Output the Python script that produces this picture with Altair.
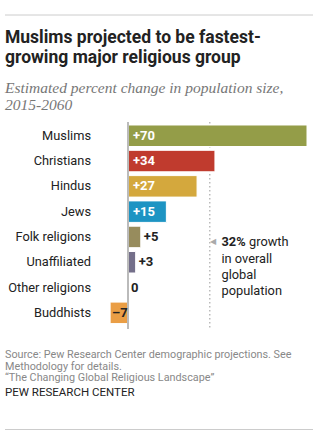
import altair as alt
import pandas as pd

groups = ["Muslims", "Christians", "Hindus", "Jews", "Folk religions",
          "Unaffiliated", "Other religions", "Buddhists"]
values = [70, 34, 27, 15, 5, 3, 0, -7]
labels = ["+70", "+34", "+27", "+15", "+5", "+3", "0", "\u20137"]
colors = ["#949D48", "#C03B2E", "#D4A83D", "#1D94C3", "#978C5D",
          "#746F8A", "#999999", "#EA9E45"]
world_growth = 32

df = pd.DataFrame({"group": groups, "value": values, "label": labels, "color": colors})

W, H = 329, 442
FONT = "Roboto"

xscale = alt.Scale(domain=[-50.06, 78.6], range=[0, W], nice=False, zero=False)
yscale = alt.Scale(domain=groups, range=[123.1, 325.5], paddingInner=0.15, paddingOuter=0.075)

base = alt.Chart(df).transform_calculate(zero="0")

bars = base.mark_bar(stroke="white", strokeWidth=1).encode(
    x=alt.X("value:Q", scale=xscale, axis=None),
    x2="zero:Q",
    y=alt.Y("group:N", scale=yscale, axis=None),
    color=alt.Color("color:N", scale=None, legend=None),
)

cats = base.mark_text(align="right", baseline="middle", font=FONT, fontSize=12.8,
                      color="#222222").encode(
    x=alt.value(91), y=alt.Y("group:N", scale=yscale, axis=None), text="group:N")

inside = base.transform_filter("datum.value >= 15").mark_text(
    align="left", baseline="middle", font=FONT, fontSize=13, fontWeight="bold",
    color="white", dx=5).encode(
    x=alt.X("zero:Q", scale=xscale, axis=None), y=alt.Y("group:N", scale=yscale, axis=None),
    text="label:N")

outside = base.transform_filter("datum.value >= 0 && datum.value < 15").mark_text(
    align="left", baseline="middle", font=FONT, fontSize=13, fontWeight="bold",
    color="#222222", dx=3).encode(
    x=alt.X("value:Q", scale=xscale, axis=None), y=alt.Y("group:N", scale=yscale, axis=None),
    text="label:N")

neg = base.transform_filter("datum.value < 0").mark_text(
    align="left", baseline="middle", font=FONT, fontSize=13, fontWeight="bold",
    color="#222222", dx=2).encode(
    x=alt.X("value:Q", scale=xscale, axis=None), y=alt.Y("group:N", scale=yscale, axis=None),
    text="label:N")

ref_df = pd.DataFrame({"v": [world_growth]})
dotted = alt.Chart(ref_df).mark_rule(color="#999999", strokeDash=[1.5, 2.5], strokeWidth=1).encode(
    x=alt.X("v:Q", scale=xscale, axis=None), y=alt.value(122), y2=alt.value(328))

zero_df = pd.DataFrame({"v": [0]})
zero = alt.Chart(zero_df).mark_rule(color="#BBBBBB", strokeWidth=2).encode(
    x=alt.X("v:Q", scale=xscale, axis=None), y=alt.value(122), y2=alt.value(329))

def txt(s, x, y, size, color="#222222", weight="normal", style="normal", font=FONT):
    return alt.Chart(pd.DataFrame({"t": [s]})).mark_text(
        align="left", baseline="middle", font=font, fontSize=size, fontWeight=weight,
        fontStyle=style, color=color).encode(x=alt.value(x), y=alt.value(y), text="t:N")

def hline(y):
    return alt.Chart(pd.DataFrame({"a": [0]})).mark_rule(color="#CCCCCC", strokeWidth=1).encode(
        x=alt.value(5), x2=alt.value(313), y=alt.value(y))

tri = txt("\u25C0", 210, 242, 8, color="#AAAAAA")

texts = [
    txt("Muslims projected to be fastest-", 5, 38, 17.5, weight="bold"),
    txt("growing major religious group", 5, 58, 17.5, weight="bold"),
    txt("Estimated percent change in population size,", 5, 88, 15.5, color="#777777",
        style="italic", font="Liberation Serif"),
    txt("2015-2060", 5, 105, 15.5, color="#777777", style="italic", font="Liberation Serif"),
    txt("32%", 221.5, 242, 12.8, weight="bold"),
    txt("growth", 249, 242, 12.8),
    txt("in overall", 221.5, 258.5, 12.8),
    txt("global", 221.5, 274.5, 12.8),
    txt("population", 221.5, 290.5, 12.8),
    txt("Source: Pew Research Center demographic projections. See", 5, 355, 10.8, color="#888888"),
    txt("Methodology for details.", 5, 366.5, 10.8, color="#888888"),
    txt("\u201cThe Changing Global Religious Landscape\u201d", 5, 378, 10.8, color="#888888"),
    txt("PEW RESEARCH CENTER", 5, 392.5, 11.5, color="#222222"),
]

chart = alt.layer(
    hline(15), hline(429.5), dotted, bars, zero, cats, inside, outside, neg, tri, *texts
).properties(
    width=W, height=H, padding=0, autosize=alt.AutoSizeParams(type="none"),
    background="white"
).configure_view(stroke=None)

chart.save("out.html", embed_options={"renderer": "svg", "actions": False})
